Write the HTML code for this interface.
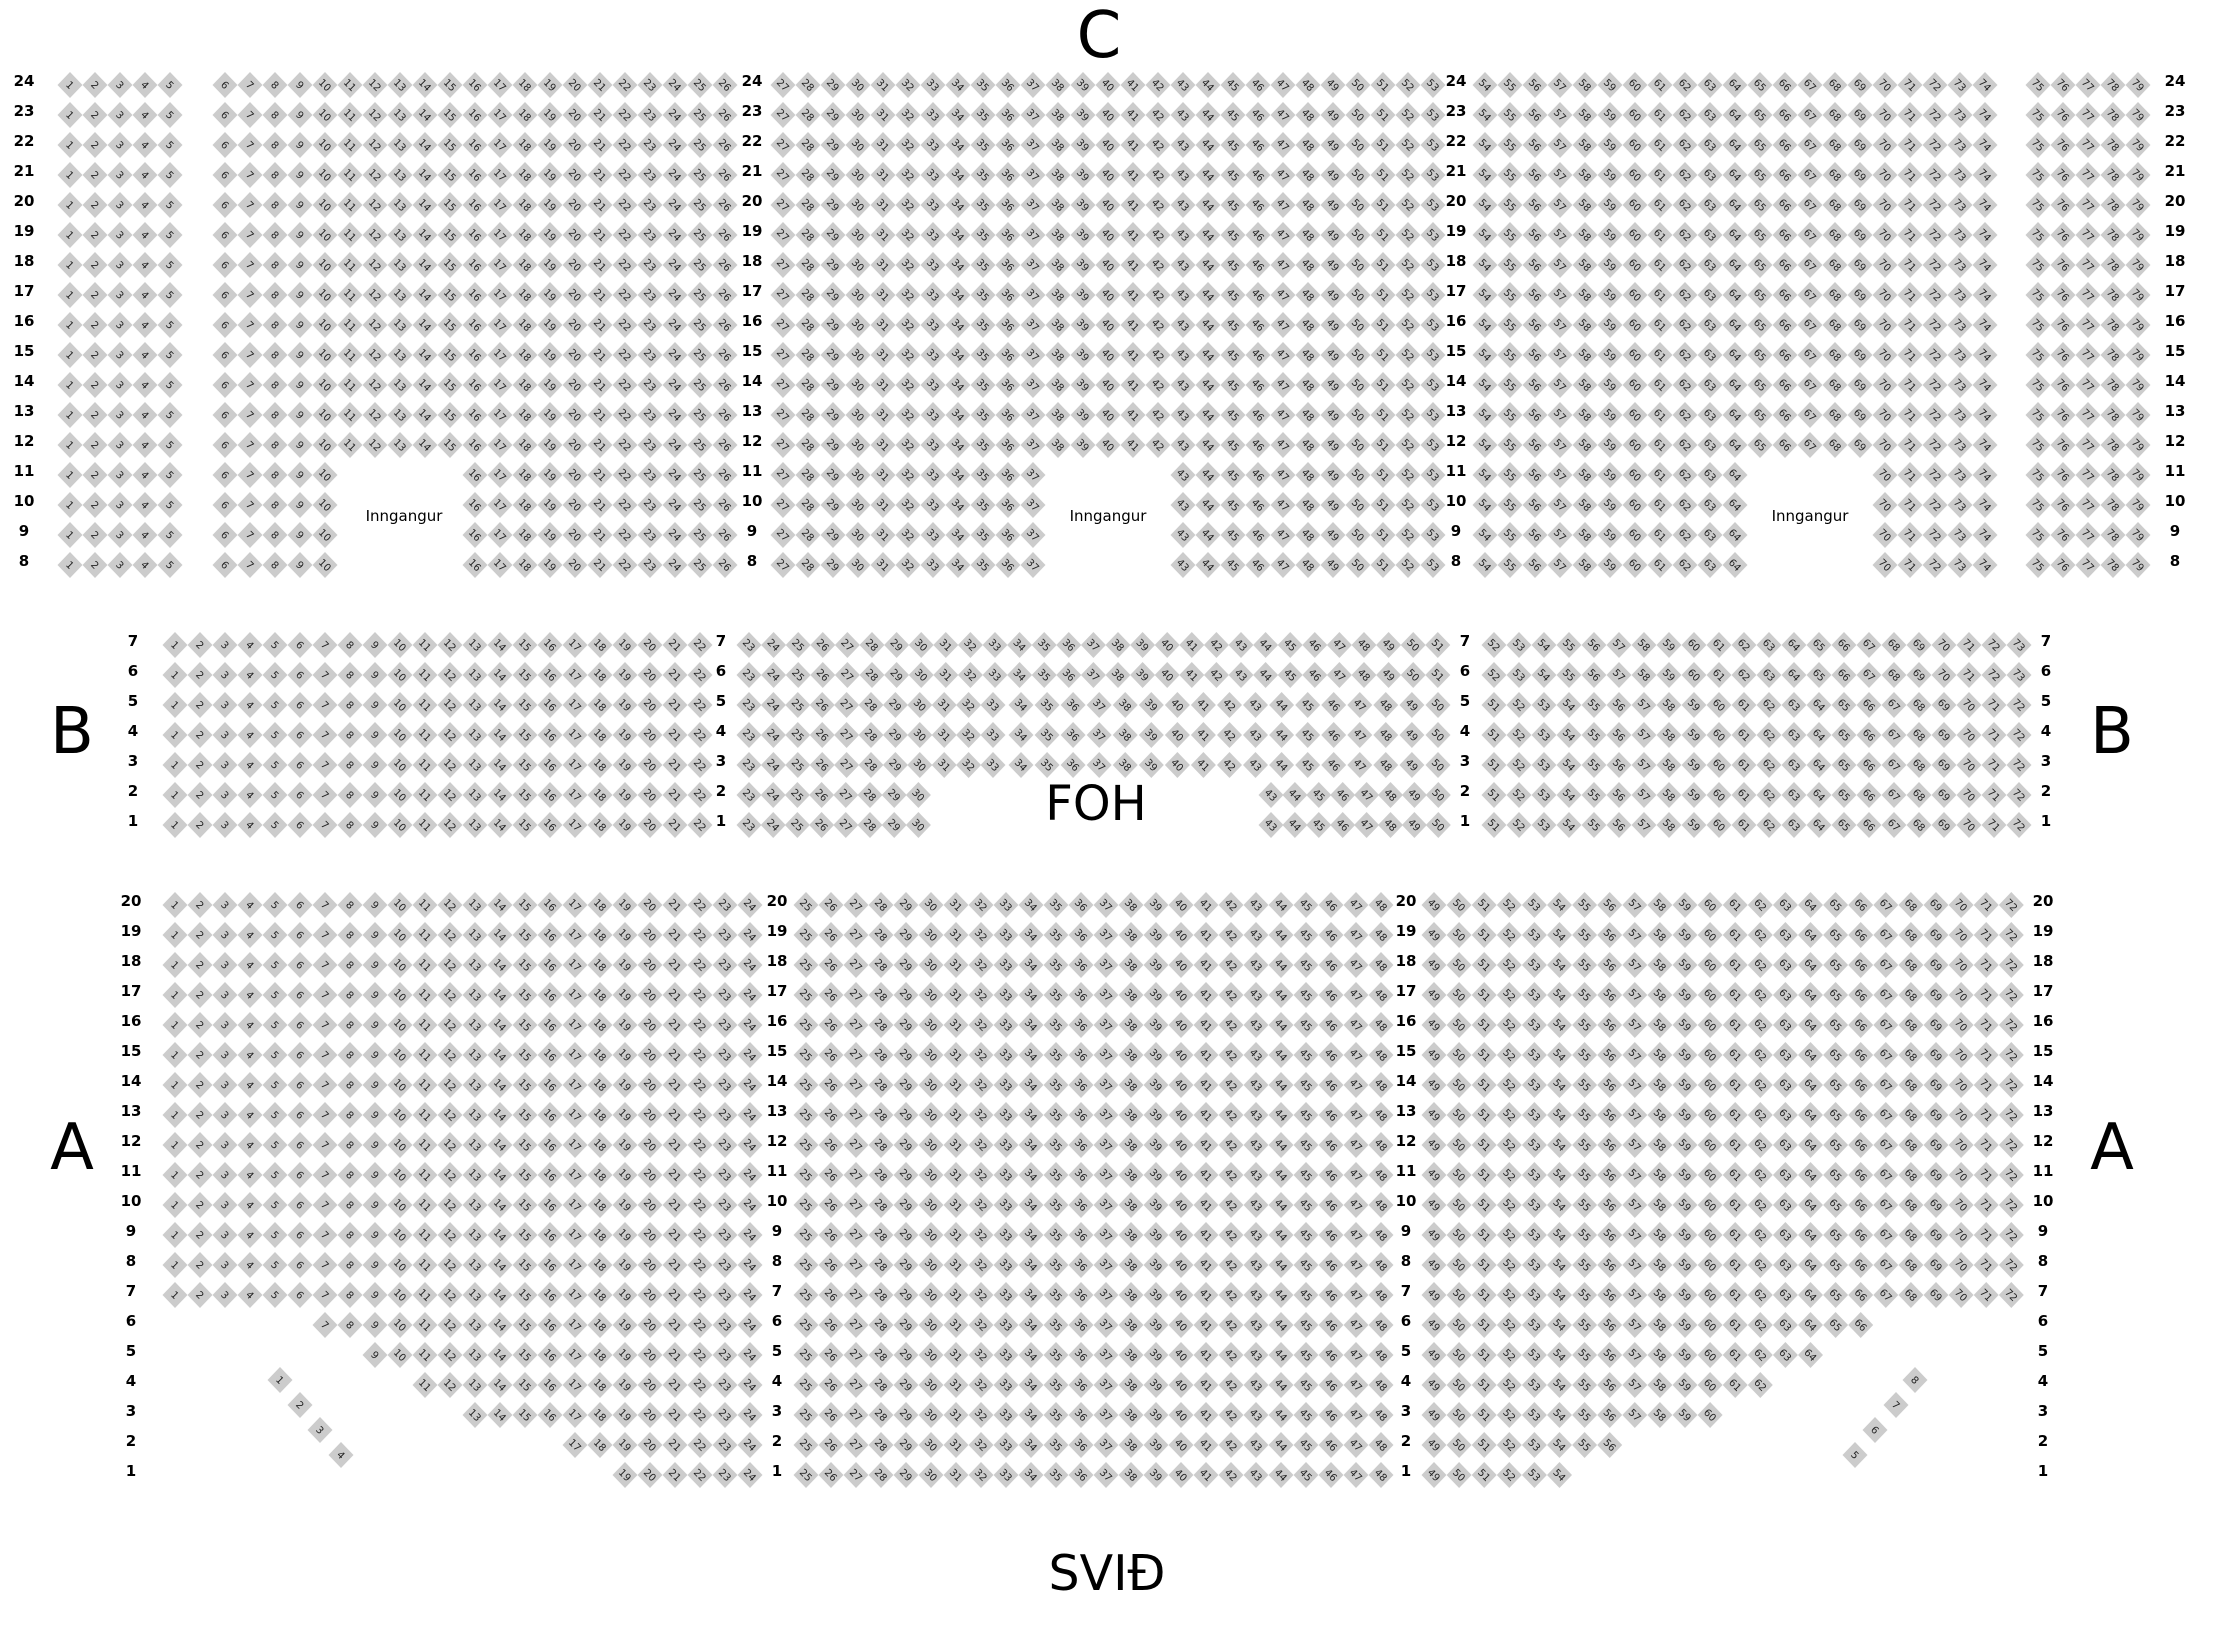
<!DOCTYPE html>
<html><head><meta charset="utf-8">
<style>
html,body{margin:0;padding:0;background:#fff;}
svg{display:block;}
.lbl{font-family:"DejaVu Sans","Liberation Sans",sans-serif;font-weight:bold;font-size:15px;fill:#000;text-anchor:middle;}
.big{font-family:"DejaVu Sans","Liberation Sans",sans-serif;fill:#000;text-anchor:middle;}
.sn{font-family:"DejaVu Sans","Liberation Sans",sans-serif;font-size:10px;fill:#222;text-anchor:middle;}
.inn{font-family:"DejaVu Sans","Liberation Sans",sans-serif;font-size:15px;fill:#000;text-anchor:middle;}
</style></head>
<body>
<svg id="s" xmlns="http://www.w3.org/2000/svg" width="2220" height="1630" viewBox="0 0 2220 1630">
<text class="big" x="1099" y="57" font-size="64">C</text>
<text class="big" x="72" y="753" font-size="64">B</text>
<text class="big" x="2112" y="753" font-size="64">B</text>
<text class="big" x="72" y="1169" font-size="64">A</text>
<text class="big" x="2112" y="1169" font-size="64">A</text>
<text class="big" x="1096" y="820" font-size="48">FOH</text>
<text class="big" x="1107" y="1590" font-size="49">SVIÐ</text>
<text class="inn" x="404" y="521">Inngangur</text>
<text class="inn" x="1108" y="521">Inngangur</text>
<text class="inn" x="1810" y="521">Inngangur</text>
<g id="g"></g>
</svg>
<script>
var g=document.getElementById('g');var out=[];
function seat(x,y,n){x=Math.round(x*10)/10;
out.push('<polygon points="'+x+','+(y-13)+' '+(x+12.5)+','+y+' '+x+','+(y+13)+' '+(x-12.5)+','+y+'" fill="#cccccc"/>');
out.push('<text class="sn" x="'+x+'" y="'+(y+3.5)+'" transform="rotate(45 '+x+' '+y+')">'+n+'</text>');}
function lab(x,y,t){out.push('<text class="lbl" x="'+x+'" y="'+(y+1)+'">'+t+'</text>');}
var r,i,y;
for(r=24;r>=8;r--){y=85+(24-r)*30;
 lab(24,y,r);lab(752,y,r);lab(1456,y,r);lab(2175,y,r);
 for(i=1;i<=5;i++)seat(70+25*(i-1),y,i);
 for(i=6;i<=26;i++){if(r<=11&&i>=11&&i<=15)continue;seat(225+25*(i-6),y,i);}
 for(i=27;i<=53;i++){if(r<=11&&i>=38&&i<=42)continue;seat(783+25*(i-27),y,i);}
 for(i=54;i<=74;i++){if(r<=11&&i>=65&&i<=69)continue;seat(1485+25*(i-54),y,i);}
 for(i=75;i<=79;i++)seat(2038+25*(i-75),y,i);
}
for(r=7;r>=1;r--){y=645+(7-r)*30;
 lab(133,y,r);lab(721,y,r);lab(1465,y,r);lab(2046,y,r);
 for(i=1;i<=22;i++)seat(175+25*(i-1),y,i);
 if(r>=6){for(i=23;i<=51;i++)seat(749+24.6*(i-23),y,i);
  for(i=52;i<=73;i++)seat(1494+25*(i-52),y,i);}
 else{
  if(r>=3){for(i=23;i<=33;i++)seat(749+24.4*(i-23),y,i);for(i=34;i<=50;i++)seat(1021+26.06*(i-34),y,i);}
  else{for(i=23;i<=30;i++)seat(749+24.2*(i-23),y,i);for(i=43;i<=50;i++)seat(1271+23.9*(i-43),y,i);}
  for(i=51;i<=72;i++)seat(1494+25*(i-51),y,i);}
}
var lmin={6:7,5:9,4:11,3:13,2:17,1:19},rmax={6:66,5:64,4:62,3:60,2:56,1:54};
for(r=20;r>=1;r--){y=905+(20-r)*30;
 lab(131,y,r);lab(777,y,r);lab(1406,y,r);lab(2043,y,r);
 var a=r>=7?1:lmin[r],b=r>=7?72:rmax[r];
 for(i=a;i<=24;i++)seat(175+25*(i-1),y,i);
 for(i=25;i<=48;i++)seat(806+25*(i-25),y,i);
 for(i=49;i<=b;i++)seat(1434+25.1*(i-49),y,i);
}
seat(280,1380,1);seat(300,1405,2);seat(320,1430,3);seat(341,1455,4);
seat(1855,1455,5);seat(1875,1430,6);seat(1896,1405,7);seat(1915,1380,8);
g.innerHTML=out.join('');
</script>
</body></html>
